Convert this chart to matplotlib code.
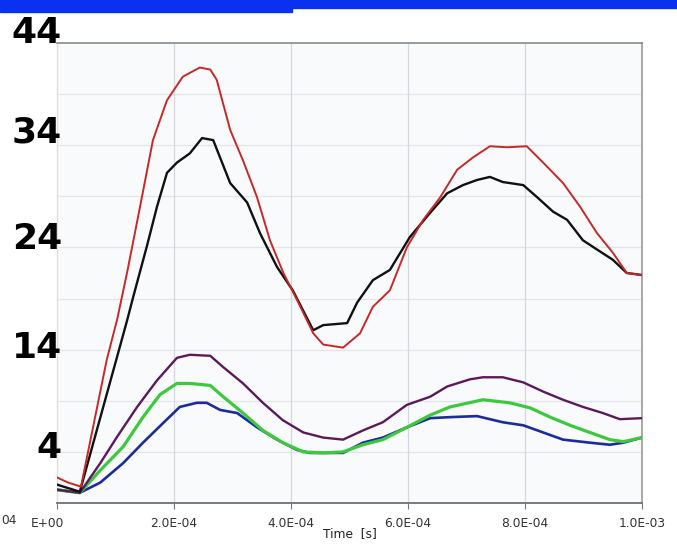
import matplotlib
matplotlib.use("Agg")
import matplotlib.pyplot as plt
import matplotlib.transforms as mtransforms
from matplotlib.patches import Rectangle

# ---- data (time in units of 1e-4 s, signal values) ----
red_t = [0, 0.19, 0.41, 0.85, 1.03, 1.20, 1.42, 1.64, 1.88, 2.15, 2.44, 2.62, 2.73, 2.96, 3.18, 3.42,
         3.64, 3.87, 4.10, 4.38, 4.55, 4.89, 5.18, 5.40, 5.69, 5.98, 6.26, 6.55, 6.84, 7.11, 7.40,
         7.69, 8.03, 8.31, 8.65, 8.94, 9.23, 9.50, 9.74, 10.0]
red_v = [1.5, 1.0, 0.6, 13.0, 17.0, 21.6, 28.0, 34.5, 38.4, 40.7, 41.6, 41.4, 40.4, 35.5, 32.5, 28.9,
         24.7, 21.5, 18.9, 15.6, 14.5, 14.2, 15.6, 18.2, 19.8, 24.0, 26.7, 28.9, 31.6, 32.8, 33.9,
         33.8, 33.9, 32.3, 30.3, 28.0, 25.4, 23.5, 21.5, 21.3]

black_t = [0, 0.39, 1.08, 1.20, 1.30, 1.54, 1.71, 1.88, 2.05, 2.27, 2.48, 2.67, 2.96, 3.25, 3.47,
           3.76, 4.03, 4.38, 4.55, 4.96, 5.13, 5.40, 5.69, 6.03, 6.38, 6.67, 6.94, 7.18, 7.40, 7.62,
           7.97, 8.21, 8.48, 8.72, 8.99, 9.23, 9.50, 9.74, 10.0]
black_v = [0.8, 0.1, 14.4, 16.9, 19.1, 24.2, 28.0, 31.3, 32.3, 33.2, 34.7, 34.5, 30.3, 28.4, 25.4,
           22.1, 19.8, 15.9, 16.4, 16.6, 18.6, 20.8, 21.8, 25.0, 27.4, 29.3, 30.1, 30.6, 30.9, 30.4,
           30.1, 28.9, 27.5, 26.7, 24.7, 23.8, 22.8, 21.5, 21.3]

purple_t = [0, 0.39, 0.74, 1.03, 1.37, 1.71, 2.05, 2.27, 2.62, 2.84, 3.18, 3.52, 3.86, 4.21, 4.55,
            4.89, 5.23, 5.57, 5.98, 6.38, 6.67, 7.06, 7.28, 7.62, 7.97, 8.31, 8.65, 8.99, 9.33,
            9.62, 10.0]
purple_v = [0.3, 0.0, 2.9, 5.5, 8.4, 11.0, 13.2, 13.5, 13.4, 12.3, 10.7, 8.8, 7.1, 5.9, 5.4,
            5.2, 6.1, 6.9, 8.6, 9.4, 10.4, 11.1, 11.3, 11.3, 10.8, 9.9, 9.1, 8.4, 7.8,
            7.2, 7.3]

green_t = [0, 0.39, 0.74, 1.13, 1.47, 1.76, 2.05, 2.27, 2.62, 2.84, 3.18, 3.52, 3.86, 4.21, 4.55,
           4.89, 5.23, 5.57, 5.98, 6.38, 6.72, 7.28, 7.74, 8.09, 8.43, 8.77, 9.11, 9.45, 9.68, 10.0]
green_v = [0.3, 0.0, 2.2, 4.5, 7.4, 9.6, 10.7, 10.7, 10.5, 9.4, 7.8, 6.1, 4.9, 4.0, 3.9,
           4.0, 4.7, 5.2, 6.4, 7.6, 8.4, 9.1, 8.8, 8.3, 7.4, 6.6, 5.9, 5.2, 5.0, 5.4]

blue_t = [0, 0.39, 0.74, 1.13, 1.47, 1.81, 2.10, 2.39, 2.56, 2.79, 3.08, 3.42, 3.76, 4.10, 4.32,
          4.89, 5.23, 5.57, 5.98, 6.38, 6.72, 7.18, 7.62, 7.97, 8.31, 8.65, 9.11, 9.45, 9.68, 10.0]
blue_v = [0.3, 0.0, 1.0, 2.9, 4.9, 6.8, 8.4, 8.8, 8.8, 8.1, 7.8, 6.4, 5.2, 4.2, 3.9,
          3.9, 4.9, 5.4, 6.4, 7.3, 7.4, 7.5, 6.9, 6.6, 5.9, 5.2, 4.9, 4.7, 4.9, 5.4]

x_ticks = [0, 2, 4, 6, 8, 10]
x_labels = ["E+00", "2.0E-04", "4.0E-04", "6.0E-04", "8.0E-04", "1.0E-03"]
y_labels = [4, 14, 24, 34, 44]

# ---- figure ----
fig = plt.figure(figsize=(6.77, 5.55), dpi=100)
W, H = 677, 555

# blue header bar
fig.patches.append(Rectangle((0, 1 - 8 / H), 1, 8 / H, transform=fig.transFigure,
                             color="#0a30f0", zorder=0))
fig.patches.append(Rectangle((0, 1 - 12 / H), 292 / W, 12 / H, transform=fig.transFigure,
                             color="#0a30f0", zorder=0))

ax = fig.add_axes([57 / W, 1 - 503 / H, (642 - 57) / W, (503 - 43) / H])
ax.set_facecolor("#f8fafc")
ax.set_xlim(0, 10)
ax.set_ylim(-1, 44)

# grid
for g in [4, 9, 14, 19, 24, 29, 34, 39]:
    ax.axhline(g, color="#e2e6ea", lw=0.9, zorder=1)
for g in [2, 4, 6, 8]:
    ax.axvline(g, color="#d4d8dc", lw=0.9, zorder=1)

series = [
    (blue_t, blue_v, "#1c2c9c", 1.9),
    (green_t, green_v, "#3ec83e", 2.3),
    (purple_t, purple_v, "#5c1a5c", 1.7),
    (black_t, black_v, "#111111", 1.7),
    (red_t, red_v, "#c82828", 1.4),
]
for t, v, c, lw in series:
    ax.plot(t, v, color=c, lw=lw, zorder=3, solid_joinstyle="round")

# spines
ax.spines["top"].set_color("#8a8a8a")
ax.spines["top"].set_linewidth(1.2)
ax.spines["right"].set_color("#9a9a9a")
ax.spines["right"].set_linewidth(1.2)
ax.spines["bottom"].set_color("#707070")
ax.spines["bottom"].set_linewidth(1.3)
ax.spines["left"].set_color("#e0e0e0")
ax.spines["left"].set_linewidth(1.0)

# x ticks
ax.set_xticks(x_ticks)
ax.set_xticklabels(x_labels, fontsize=8.8, color="#333333")
ax.tick_params(axis="x", length=4, color="#777777", pad=6)
first = ax.get_xticklabels()[0]
first.set_transform(first.get_transform() + mtransforms.ScaledTranslation(-10 / 100, 0, fig.dpi_scale_trans))
ax.set_xlabel("Time  [s]", fontsize=8.8, color="#222222", labelpad=-2)
fig.text(1 / W, 1 - 520 / H, "04", fontsize=8.8, color="#333333", ha="left", va="center")

# y labels (bold, overlaid)
ax.set_yticks([])
offsets = {44: 10, 34: 13, 24: 8, 14: 2, 4: 4}
for val in y_labels:
    tr = ax.get_yaxis_transform() + mtransforms.ScaledTranslation(5 / 100, offsets[val] / 100, fig.dpi_scale_trans)
    ax.text(0, val, str(val), transform=tr, ha="right", va="center",
            fontsize=26, fontweight="bold", color="black", clip_on=False)

fig.savefig("out.png", dpi=100)
